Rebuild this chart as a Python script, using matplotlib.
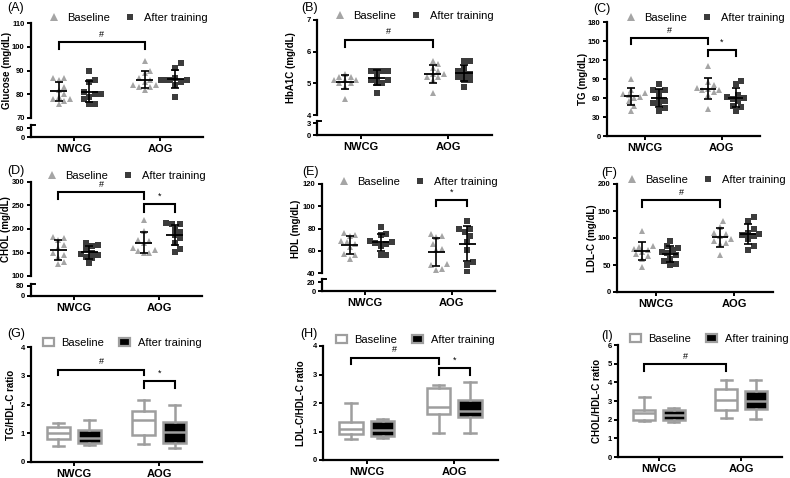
import numpy as np
import matplotlib
matplotlib.use('Agg')
import matplotlib.pyplot as plt
from matplotlib.lines import Line2D
from matplotlib.patches import Patch

plt.rcParams['font.family'] = ['Liberation Sans', 'DejaVu Sans']

W, H = 790, 478

groups = ['NWCG', 'AOG']
legend_labels = ['Baseline', 'After training']

# (A) Glucose, mg/dL
glucose_nwcg_base = [87, 86, 87, 82, 80, 79, 78, 78, 76, 77, 83]
glucose_nwcg_after = [90, 86, 85, 81, 80, 80, 79, 78, 76, 76]
glucose_aog_base = [94, 90, 89, 87, 86, 85, 84, 84, 83, 82, 83]
glucose_aog_after = [93, 91, 87, 86, 86, 86, 85, 84, 79, 86]

# (B) HbA1C
hba1c_nwcg_base = [5.3, 5.2, 5.2, 5.1, 5.1, 5.0, 5.0, 5.1, 4.9, 4.5]
hba1c_nwcg_after = [5.4, 5.4, 5.4, 5.4, 5.2, 5.1, 5.1, 5.0, 5.0, 4.7]
hba1c_aog_base = [5.7, 5.6, 5.5, 5.4, 5.3, 5.3, 5.2, 5.2, 5.1, 4.7]
hba1c_aog_after = [5.7, 5.7, 5.5, 5.4, 5.3, 5.3, 5.2, 5.1, 5.1, 4.9]

# (C) TG
tg_nwcg_base = [90, 72, 68, 66, 64, 62, 60, 55, 48, 40]
tg_nwcg_after = [82, 73, 73, 70, 60, 56, 52, 50, 45, 40]
tg_aog_base = [110, 85, 80, 76, 74, 72, 72, 70, 65, 42]
tg_aog_after = [87, 82, 65, 62, 60, 58, 55, 48, 46, 40]

# (D) CHOL
chol_nwcg_base = [184, 180, 176, 165, 160, 148, 145, 140, 130, 125]
chol_nwcg_after = [170, 166, 164, 158, 150, 147, 145, 140, 138, 127]
chol_aog_base = [219, 196, 176, 174, 170, 160, 156, 153, 150, 150]
chol_aog_after = [212, 211, 210, 200, 194, 188, 180, 170, 158, 152]

# (E) HDL
hdl_nwcg_base = [76, 74, 73, 69, 68, 66, 63, 57, 56, 53]
hdl_nwcg_after = [81, 75, 74, 69, 68, 67, 66, 64, 56, 56]
hdl_aog_base = [75, 73, 72, 66, 62, 61, 48, 47, 44, 43]
hdl_aog_after = [87, 80, 80, 77, 73, 68, 61, 50, 47, 41]

# (F) LDL-C
ldl_nwcg_base = [113, 86, 83, 80, 78, 74, 70, 66, 62, 47]
ldl_nwcg_after = [94, 85, 82, 78, 74, 72, 68, 62, 58, 52, 50]
ldl_aog_base = [131, 121, 110, 107, 103, 98, 95, 91, 88, 69]
ldl_aog_after = [138, 132, 117, 110, 107, 106, 104, 98, 85, 78]

# box plots: [min, q1, median, q3, max]
tg_hdl_nwcg_base = [0.55, 0.80, 1.00, 1.21, 1.35]
tg_hdl_nwcg_after = [0.60, 0.67, 0.82, 1.12, 1.47]
tg_hdl_aog_base = [0.62, 0.95, 1.45, 1.78, 2.15]
tg_hdl_aog_after = [0.50, 0.65, 1.05, 1.40, 2.00]

ldl_hdl_nwcg_base = [0.72, 0.90, 1.10, 1.35, 2.00]
ldl_hdl_nwcg_after = [0.76, 0.83, 1.07, 1.36, 1.43]
ldl_hdl_aog_base = [0.96, 1.60, 1.85, 2.52, 2.63]
ldl_hdl_aog_after = [0.93, 1.52, 1.71, 2.12, 2.75]

chol_hdl_nwcg_base = [1.94, 2.00, 2.35, 2.53, 3.19]
chol_hdl_nwcg_after = [1.87, 2.00, 2.26, 2.53, 2.62]
chol_hdl_aog_base = [2.08, 2.53, 3.06, 3.65, 4.13]
chol_hdl_aog_after = [2.03, 2.56, 3.00, 3.54, 4.13]

BASE_COLOR = '#a5a5a5'
AFTER_COLOR = '#3c3c3c'
BOX_EDGE = '#9e9e9e'
OFF = 0.18


def rect(l, t, r, b):
    return [l / W, 1 - b / H, (r - l) / W, (b - t) / H]


def style(ax, bottom=True):
    ax.spines['top'].set_visible(False)
    ax.spines['right'].set_visible(False)
    ax.spines['left'].set_linewidth(1.6)
    ax.spines['bottom'].set_linewidth(1.6)
    ax.patch.set_alpha(0)
    ax.tick_params(axis='y', length=3, width=1.4, labelsize=5.5, pad=1.5)
    ax.tick_params(axis='x', length=3, width=1.4, labelsize=8, pad=2)
    ax.set_xlim(-0.5, 1.5)
    if bottom:
        ax.set_xticks([0, 1])
        ax.set_xticklabels(groups, fontweight='bold')
    else:
        ax.spines['bottom'].set_visible(False)
        ax.set_xticks([])


def bold_yticks(ax, ticks):
    ax.set_yticks(ticks)
    for t in ax.get_yticklabels():
        t.set_fontweight('bold')


def swarm(values, ylim, h_px, w_px, diam=5.6):
    ypx = (np.asarray(values, float) - ylim[0]) / (ylim[1] - ylim[0]) * h_px
    placed = []
    offs = np.zeros(len(values))
    step = diam / 2
    for i in np.argsort(ypx):
        for k in [0, 1, -1, 2, -2, 3, -3, 4, -4, 5, -5]:
            xo = k * step
            if all((xo - px) ** 2 + (ypx[i] - py) ** 2 >= diam ** 2 for px, py in placed):
                break
        placed.append((xo, ypx[i]))
        offs[i] = xo
    return offs / w_px * 2.0


def bracket(ax, x1, x2, y, leg, text):
    ax.plot([x1, x1, x2, x2], [leg, y, y, leg], color='black', lw=1.5,
            solid_joinstyle='miter', clip_on=False)
    ax.annotate(text, xy=((x1 + x2) / 2, y), xytext=(0, 2.5), textcoords='offset points',
                ha='center', va='bottom', fontsize=6.5)


def panel_label(fig, x, y, text):
    fig.text(x / W, 1 - y / H, text, ha='left', va='center', fontsize=9)


def legend(fig, ax, handles, cx, cy):
    ax.legend(handles, legend_labels, loc='center', bbox_to_anchor=(cx / W, 1 - cy / H),
              bbox_transform=fig.transFigure, ncol=2, frameon=False, fontsize=8,
              handletextpad=0.7, columnspacing=1.3, handlelength=1.0, borderaxespad=0)


def ylabel(ax, text, label_x, l, r):
    # label_x is the centre of the rotated label in figure pixels
    ax.set_ylabel(text, fontsize=7, fontweight='bold')
    ax.yaxis.set_label_coords((label_x + 4 - l) / (r - l), 0.5)


def scatter_panel(fig, box, ylim, yticks, label, data, label_x, lower=None):
    l, t, r, b = box
    ax = fig.add_axes(rect(l, t, r, b))
    style(ax, bottom=lower is None)
    ax.set_ylim(*ylim)
    bold_yticks(ax, yticks)
    ylabel(ax, label, label_x, l, r)
    h_px, w_px = b - t, r - l
    for gi, (base, after) in enumerate(data):
        for vals, dx, marker, color, ms in [(base, -OFF, '^', BASE_COLOR, 5.0),
                                            (after, OFF, 's', AFTER_COLOR, 4.0)]:
            xs = gi + dx + swarm(vals, ylim, h_px, w_px)
            ax.plot(xs, vals, ls='', marker=marker, color=color, ms=ms, mew=0, zorder=2)
            m, sd = np.mean(vals), np.std(vals, ddof=1)
            ax.errorbar(gi + dx, m, yerr=sd, color='black', lw=1.2, capsize=3, capthick=1.2, zorder=3)
            ax.hlines(m, gi + dx - 0.1, gi + dx + 0.1, color='black', lw=1.3, zorder=3)
    if lower is not None:
        lt, lb, lylim, lticks = lower
        ax2 = fig.add_axes(rect(l, lt, r, lb))
        style(ax2, bottom=True)
        ax2.set_ylim(*lylim)
        bold_yticks(ax2, lticks)
        ax2.plot([0, 0.025], [1, 1], transform=ax2.transAxes, color='black', lw=1.4, clip_on=False)
    return ax


def box_panel(fig, box, ylim, yticks, label, data, label_x):
    l, t, r, b = box
    ax = fig.add_axes(rect(l, t, r, b))
    style(ax)
    ax.set_ylim(*ylim)
    bold_yticks(ax, yticks)
    ylabel(ax, label, label_x, l, r)
    for gi, (base, after) in enumerate(data):
        for s, dx, face in [(base, -OFF, 'white'), (after, OFF, 'black')]:
            st = [dict(whislo=s[0], q1=s[1], med=s[2], q3=s[3], whishi=s[4], fliers=[])]
            ax.bxp(st, positions=[gi + dx], widths=0.27, capwidths=0.13, patch_artist=True,
                   showfliers=False, manage_ticks=False,
                   boxprops=dict(facecolor=face, edgecolor=BOX_EDGE, lw=1.8),
                   whiskerprops=dict(color=BOX_EDGE, lw=1.8),
                   capprops=dict(color=BOX_EDGE, lw=1.8),
                   medianprops=dict(color=BOX_EDGE, lw=1.8))
    return ax


def main():
    fig = plt.figure(figsize=(W / 100, H / 100), dpi=100)

    scat_h = [Line2D([], [], marker='^', ls='', color=BASE_COLOR, ms=6, mew=0),
              Line2D([], [], marker='s', ls='', color=AFTER_COLOR, ms=5, mew=0)]
    box_h = [Patch(facecolor='white', edgecolor=BOX_EDGE, lw=1.6),
             Patch(facecolor='black', edgecolor=BOX_EDGE, lw=1.6)]

    # (A)
    ax = scatter_panel(fig, (31, 23, 203, 118), (70, 110), [70, 80, 90, 100, 110], 'Glucose (mg/dL)',
                       [(glucose_nwcg_base, glucose_nwcg_after), (glucose_aog_base, glucose_aog_after)],
                       8, lower=(125, 137, (0, 80), [0, 60]))
    bracket(ax, -OFF, 1 - OFF, 102, 99, '#')
    legend(fig, ax, scat_h, 128, 18)
    panel_label(fig, 7, 8, '(A)')

    # (B)
    ax = scatter_panel(fig, (317, 20, 492, 115), (4, 7), [4, 5, 6, 7], 'HbA1C (mg/dL)',
                       [(hba1c_nwcg_base, hba1c_nwcg_after), (hba1c_aog_base, hba1c_aog_after)],
                       292, lower=(121, 135, (0, 3.5), [0, 3]))
    bracket(ax, -OFF, 1 - OFF, 6.37, 6.16, '#')
    legend(fig, ax, scat_h, 414, 16)
    panel_label(fig, 301, 8, '(B)')

    # (C)
    ax = scatter_panel(fig, (607, 22, 760, 136), (0, 180), [0, 30, 60, 90, 120, 150, 180], 'TG (mg/dL)',
                       [(tg_nwcg_base, tg_nwcg_after), (tg_aog_base, tg_aog_after)], 584)
    bracket(ax, -OFF, 1 - OFF, 154, 146, '#')
    bracket(ax, 1 - OFF, 1 + OFF, 136, 127, '*')
    legend(fig, ax, scat_h, 705, 18)
    panel_label(fig, 593, 9, '(C)')

    # (D)
    ax = scatter_panel(fig, (31, 182, 202, 276), (100, 300), [100, 150, 200, 250, 300], 'CHOL (mg/dL)',
                       [(chol_nwcg_base, chol_nwcg_after), (chol_aog_base, chol_aog_after)],
                       7, lower=(284, 296, (0, 96), [0, 80]))
    bracket(ax, -OFF, 1 - OFF, 278.6, 264, '#')
    bracket(ax, 1 - OFF, 1 + OFF, 253, 237, '*')
    legend(fig, ax, scat_h, 126, 176)
    panel_label(fig, 7, 171, '(D)')

    # (E)
    ax = scatter_panel(fig, (322, 184, 495, 273), (40, 120), [40, 60, 80, 100, 120], 'HDL (mg/dL)',
                       [(hdl_nwcg_base, hdl_nwcg_after), (hdl_aog_base, hdl_aog_after)],
                       297, lower=(279, 291, (0, 26.7), [0, 20]))
    bracket(ax, 1 - OFF, 1 + OFF, 105.7, 100.3, '*')
    legend(fig, ax, scat_h, 418, 182)
    panel_label(fig, 302, 172, '(E)')

    # (F)
    ax = scatter_panel(fig, (617, 184, 773, 292), (0, 200), [0, 50, 100, 150, 200], 'LDL-C (mg/dL)',
                       [(ldl_nwcg_base, ldl_nwcg_after), (ldl_aog_base, ldl_aog_after)], 593)
    bracket(ax, -OFF, 1 - OFF, 170, 158, '#')
    legend(fig, ax, scat_h, 706, 180)
    panel_label(fig, 601, 173, '(F)')

    # (G)
    ax = box_panel(fig, (31, 347, 202, 462), (0, 4), [0, 1, 2, 3, 4], 'TG/HDL-C ratio',
                   [(tg_hdl_nwcg_base, tg_hdl_nwcg_after), (tg_hdl_aog_base, tg_hdl_aog_after)], 12)
    bracket(ax, -OFF, 1 - OFF, 3.21, 3.01, '#')
    bracket(ax, 1 - OFF, 1 + OFF, 2.82, 2.57, '*')
    legend(fig, ax, box_h, 122, 343)
    panel_label(fig, 7, 334, '(G)')

    # (H)
    ax = box_panel(fig, (323, 346, 498, 460), (0, 4), [0, 1, 2, 3, 4], 'LDL-C/HDL-C ratio',
                   [(ldl_hdl_nwcg_base, ldl_hdl_nwcg_after), (ldl_hdl_aog_base, ldl_hdl_aog_after)], 302)
    bracket(ax, -OFF, 1 - OFF, 3.58, 3.38, '#')
    bracket(ax, 1 - OFF, 1 + OFF, 3.23, 3.0, '*')
    legend(fig, ax, box_h, 415, 340)
    panel_label(fig, 300, 334, '(H)')

    # (I)
    ax = box_panel(fig, (618, 345, 782, 457), (0, 6), [0, 1, 2, 3, 4, 5, 6], 'CHOL/HDL-C ratio',
                   [(chol_hdl_nwcg_base, chol_hdl_nwcg_after), (chol_hdl_aog_base, chol_hdl_aog_after)], 598)
    bracket(ax, -OFF, 1 - OFF, 4.97, 4.61, '#')
    legend(fig, ax, box_h, 709, 339)
    panel_label(fig, 601, 336, '(I)')

    fig.savefig('out.png', dpi=100)
    plt.close(fig)


if __name__ == "__main__":
    main()
